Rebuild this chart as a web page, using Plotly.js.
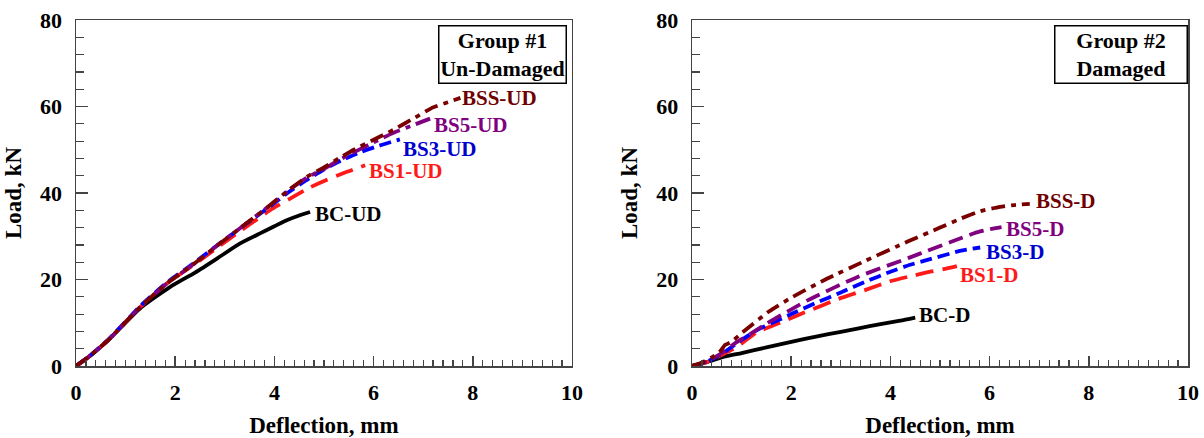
<!DOCTYPE html>
<html>
<head>
<meta charset="utf-8">
<script src="https://cdn.plot.ly/plotly-3.0.1.min.js"></script>
<style>
  html, body { margin: 0; padding: 0; background: #fff; }
  #chart { width: 1204px; height: 438px; }
</style>
</head>
<body>
<div id="chart"></div>
<script>
// ---------- Group #1 (Un-Damaged) ----------
const bcUD_x  = [0, 0.25, 0.65, 1.3, 1.9, 2.4, 2.85, 3.3, 3.7, 4.0, 4.25, 4.5, 4.72];
const bcUD_y  = [0, 2.0, 6.0, 13.4, 18.3, 21.6, 24.9, 28.3, 30.6, 32.3, 33.7, 34.8, 35.6];

const bs1UD_x = [0, 0.25, 0.65, 1.3, 1.8, 2.4, 2.9, 3.35, 3.95, 4.3, 4.72, 5.05, 5.4, 5.83];
const bs1UD_y = [0, 2.1, 6.0, 13.7, 18.8, 23.6, 27.8, 31.5, 36.3, 38.6, 41.3, 43.0, 44.6, 46.4];

const bs3UD_x = [0, 0.25, 0.65, 1.3, 1.8, 2.4, 2.9, 3.45, 3.95, 4.3, 4.65, 5.05, 5.4, 5.75, 6.1, 6.53];
const bs3UD_y = [0, 2.1, 6.1, 13.9, 19.0, 24.0, 28.4, 33.0, 37.2, 40.3, 43.0, 45.8, 47.8, 49.5, 50.9, 52.4];

const bs5UD_x = [0, 0.25, 0.65, 1.3, 1.8, 2.4, 2.9, 3.45, 3.95, 4.3, 4.65, 5.0, 5.3, 5.6, 6.0, 6.4, 6.8, 7.14];
const bs5UD_y = [0, 2.1, 6.0, 13.7, 18.8, 23.8, 28.3, 33.1, 37.5, 40.7, 43.5, 45.6, 47.6, 49.4, 51.7, 53.9, 55.7, 57.2];

const bssUD_x = [0, 0.25, 0.65, 1.3, 1.8, 2.4, 2.9, 3.45, 3.95, 4.3, 4.65, 5.0, 5.3, 5.6, 6.0, 6.4, 6.8, 7.2, 7.5, 7.75];
const bssUD_y = [0, 2.1, 6.0, 13.7, 18.8, 23.8, 28.3, 33.1, 37.5, 40.8, 43.7, 45.9, 48.0, 50.0, 52.3, 54.6, 57.2, 59.8, 61.0, 62.0];

// ---------- Group #2 (Damaged) ----------
const bcD_x  = [0, 0.3, 0.67, 1.0, 1.5, 2.0, 2.5, 3.0, 3.36, 3.8, 4.2, 4.5];
const bcD_y  = [0, 0.9, 2.2, 3.0, 4.3, 5.6, 6.8, 7.9, 8.7, 9.7, 10.5, 11.2];

const bs1D_x = [0, 0.3, 0.6, 0.9, 1.31, 1.77, 2.25, 3.02, 3.5, 4.03, 4.46, 4.8, 5.07, 5.34];
const bs1D_y = [0, 0.9, 2.6, 4.4, 7.8, 10.0, 12.3, 15.8, 17.6, 19.7, 20.9, 21.8, 22.4, 23.1];

const bs3D_x = [0, 0.3, 0.6, 0.87, 1.31, 2.0, 2.5, 3.0, 3.5, 4.0, 4.4, 4.8, 5.4, 5.81];
const bs3D_y = [0, 1.0, 2.8, 5.0, 8.3, 12.0, 14.6, 17.0, 19.5, 21.8, 23.4, 24.7, 26.6, 27.4];

const bs5D_x = [0, 0.3, 0.6, 0.87, 1.2, 1.5, 2.35, 3.36, 4.37, 4.8, 5.2, 5.74, 6.0, 6.24];
const bs5D_y = [0, 1.0, 3.0, 5.3, 7.6, 9.8, 15.3, 20.7, 25.0, 26.9, 28.6, 30.9, 31.6, 32.1];

const bssD_x = [0, 0.2, 0.4, 0.55, 0.67, 0.8, 1.0, 1.55, 2.0, 2.69, 3.49, 4.37, 5.0, 5.4, 5.81, 6.21, 6.5, 6.81];
const bssD_y = [0, 0.8, 2.0, 3.2, 4.9, 5.6, 7.6, 12.6, 15.8, 20.0, 24.3, 28.9, 32.0, 34.0, 35.8, 36.8, 37.2, 37.5];

// ---------- labels ----------
const groupLabels = ['Group #1<br>Un-Damaged', 'Group #2<br>Damaged'];
const udNames = ['BC-UD', 'BS1-UD', 'BS3-UD', 'BS5-UD', 'BSS-UD'];
const dNames  = ['BC-D', 'BS1-D', 'BS3-D', 'BS5-D', 'BSS-D'];
const udLabelPos = [[4.8, 35.2], [5.89, 45.2], [6.57, 50.1], [7.19, 55.7], [7.76, 61.9]];
const dLabelPos  = [[4.56, 11.9], [5.39, 21.0], [5.91, 26.3], [6.31, 31.7], [6.92, 38.2]];

const xTitle = 'Deflection, mm';
const yTitle = 'Load, kN';

// ---------- styles ----------
const colors = ['#000000', '#ff1a1a', '#0000ff', '#800080', '#7a0000'];
const labelColors = ['#000000', '#ff1a1a', '#0000cc', '#800080', '#6e0000'];
const dashesUD = ['solid', '18px,9px', '12px,6px', '18px,6px,5px,6px', '14px,6px,5px,6px'];
const dashesD  = ['solid', '18px,9px', '12px,6px', '15px,7px', '14px,6px,5px,6px'];

const FONT = "'Liberation Serif', 'Times New Roman', Times, serif";

const traces = [];
const udX = [bcUD_x, bs1UD_x, bs3UD_x, bs5UD_x, bssUD_x];
const udY = [bcUD_y, bs1UD_y, bs3UD_y, bs5UD_y, bssUD_y];
const dX  = [bcD_x, bs1D_x, bs3D_x, bs5D_x, bssD_x];
const dY  = [bcD_y, bs1D_y, bs3D_y, bs5D_y, bssD_y];

for (let i = 0; i < 5; i++) {
  traces.push({ x: udX[i], y: udY[i], name: udNames[i], type: 'scatter', mode: 'lines',
    line: { color: colors[i], width: 3.8, dash: dashesUD[i], shape: 'spline', smoothing: 0.5 },
    xaxis: 'x', yaxis: 'y', hoverinfo: 'skip' });
}
for (let i = 0; i < 5; i++) {
  traces.push({ x: dX[i], y: dY[i], name: dNames[i], type: 'scatter', mode: 'lines',
    line: { color: colors[i], width: 3.8, dash: dashesD[i], shape: 'spline', smoothing: 0.5 },
    xaxis: 'x2', yaxis: 'y2', hoverinfo: 'skip' });
}

const annotations = [];
for (let i = 0; i < 5; i++) {
  annotations.push({ x: udLabelPos[i][0], y: udLabelPos[i][1], xref: 'x', yref: 'y',
    text: '<b>' + udNames[i] + '</b>', showarrow: false, xanchor: 'left', yanchor: 'middle',
    borderpad: 0, font: { family: FONT, size: 21, color: labelColors[i] } });
  annotations.push({ x: dLabelPos[i][0], y: dLabelPos[i][1], xref: 'x2', yref: 'y2',
    text: '<b>' + dNames[i] + '</b>', showarrow: false, xanchor: 'left', yanchor: 'middle',
    borderpad: 0, font: { family: FONT, size: 21, color: labelColors[i] } });
}
annotations.push({ x: 8.59, y: 72.0, xref: 'x', yref: 'y', text: '<b>' + groupLabels[0] + '</b>',
  showarrow: false, xanchor: 'center', yanchor: 'middle', align: 'center',
  bordercolor: '#000', borderwidth: 1.5, borderpad: 1, bgcolor: '#fff', width: 124, height: 54,
  font: { family: FONT, size: 22, color: '#000' } });
annotations.push({ x: 8.65, y: 72.0, xref: 'x2', yref: 'y2', text: '<b>' + groupLabels[1] + '</b>',
  showarrow: false, xanchor: 'center', yanchor: 'middle', align: 'center',
  bordercolor: '#000', borderwidth: 1.5, borderpad: 1, bgcolor: '#fff', width: 129, height: 54,
  font: { family: FONT, size: 22, color: '#000' } });

function xax(domain) {
  return {
    domain: domain, range: [0, 10], dtick: 2, tick0: 0,
    ticks: 'inside', ticklen: 10, tickwidth: 1.5, tickcolor: '#444',
    minor: { dtick: 0.2, ticks: 'inside', ticklen: 6, tickwidth: 1.2, tickcolor: '#444', showgrid: false },
    showline: true, linecolor: '#444', linewidth: 1.5, mirror: true,
    showgrid: false, zeroline: false, fixedrange: true, ticklabelstandoff: 6,
    tickfont: { family: FONT, size: 22, color: '#000', weight: 'bold' },
    title: { text: '<b>' + xTitle + '</b>', standoff: 14, font: { family: FONT, size: 23, color: '#000' } },
    automargin: false
  };
}
function yax(anchor) {
  return {
    domain: [0, 1], range: [0, 80], dtick: 20, tick0: 0, anchor: anchor,
    ticks: 'inside', ticklen: 12, tickwidth: 1.5, tickcolor: '#444',
    minor: { dtick: 4, ticks: 'inside', ticklen: 8, tickwidth: 1.2, tickcolor: '#444', showgrid: false },
    showline: true, linecolor: '#444', linewidth: 1.5, mirror: true,
    showgrid: false, zeroline: false, fixedrange: true, ticklabelstandoff: 8,
    tickfont: { family: FONT, size: 22, color: '#000', weight: 'bold' },
    title: { text: '<b>' + yTitle + '</b>', standoff: 12, font: { family: FONT, size: 23, color: '#000' } },
    automargin: false
  };
}

const xa1 = xax([0, 0.446]); xa1.anchor = 'y';
const xa2 = xax([0.554, 1]); xa2.anchor = 'y2';

const layout = {
  width: 1204, height: 438,
  margin: { l: 76, r: 16, t: 20, b: 72, pad: 0 },
  paper_bgcolor: '#fff', plot_bgcolor: '#fff',
  showlegend: false,
  xaxis: xa1, yaxis: yax('x'),
  xaxis2: xa2, yaxis2: yax('x2'),
  annotations: annotations,
  font: { family: FONT, color: '#000' }
};

Plotly.newPlot('chart', traces, layout, { displayModeBar: false, staticPlot: true });
</script>
</body>
</html>
